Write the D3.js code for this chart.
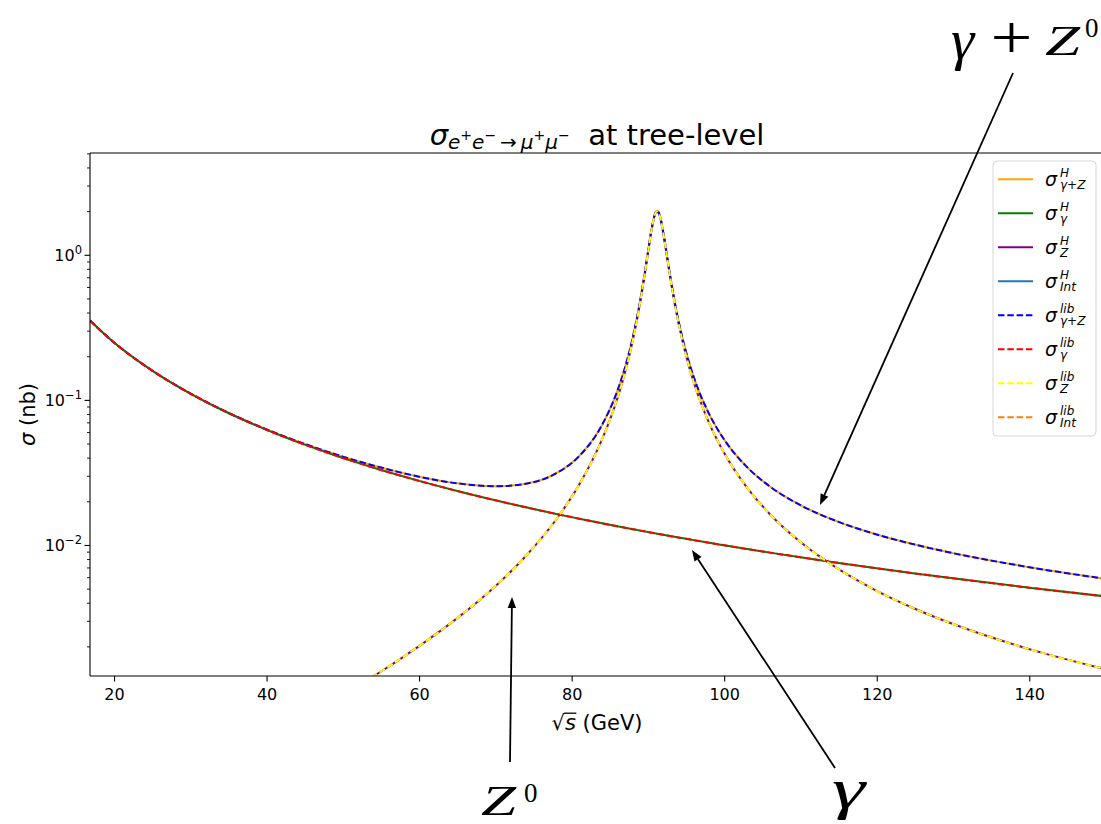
<!DOCTYPE html>
<html>
<head>
<meta charset="utf-8">
<script src="https://cdn.jsdelivr.net/npm/d3@7"></script>
<style>
  body { margin: 0; background: #fff; }
  svg { display: block; font-family: "DejaVu Sans", sans-serif; }
  text { white-space: pre; }
</style>
</head>
<body>
<svg id="chart" width="1101" height="824"></svg>
<script>
// Centre-of-mass energy sqrt(s) in GeV
const energy = [16, 20, 25, 30, 35, 40, 45, 50, 52.5, 55, 57.5, 60, 65, 70, 74, 78, 81, 84, 86, 87, 88, 89,
  89.5, 90, 90.5, 91, 91.2, 91.5, 92, 92.5, 93, 93.5, 94, 95, 96, 98, 100, 103, 106, 110, 115, 120, 125, 130, 140, 150];

// Cross sections in nb
const sigmaGamma = [0.3887, 0.2488, 0.1592, 0.1106, 0.08122, 0.06219, 0.04914, 0.03980, 0.03610, 0.03289, 0.03009,
  0.02764, 0.02355, 0.02031, 0.01817, 0.01635, 0.01517, 0.01410, 0.01345, 0.01315, 0.01285, 0.01256,
  0.01242, 0.01228, 0.01215, 0.01202, 0.01196, 0.01189, 0.01176, 0.01163, 0.01150, 0.01138, 0.01126,
  0.01103, 0.01080, 0.01036, 0.00995, 0.009379, 0.008856, 0.008223, 0.007524, 0.006910, 0.006368,
  0.005888, 0.005077, 0.004422];

const sigmaZ = [4.90e-5, 7.94e-5, 1.313e-4, 2.034e-4, 3.028e-4, 4.408e-4, 6.357e-4, 9.181e-4, 1.108e-3, 1.342e-3, 1.636e-3,
  2.009e-3, 3.131e-3, 5.202e-3, 8.394e-3, 0.01504, 0.02607, 0.05358, 0.1025, 0.1546, 0.2545, 0.4749,
  0.6872, 1.0255, 1.5097, 1.9448, 1.9984, 1.8942, 1.4268, 0.9704, 0.6604, 0.4652, 0.3407,
  0.2023, 0.1329, 0.06980, 0.04306, 0.02485, 0.01629, 0.01047, 0.006811, 0.004832, 0.003635,
  0.002851, 0.001914, 0.001391];

const sigmaInt = [-4.89e-5, -4.98e-5, -5.13e-5, -5.32e-5, -5.56e-5, -5.87e-5, -6.27e-5, -6.78e-5, -7.09e-5, -7.45e-5, -7.86e-5,
  -8.35e-5, -9.62e-5, -1.151e-4, -1.381e-4, -1.751e-4, -2.212e-4, -3.035e-4, -4.045e-4, -4.837e-4, -5.961e-4, -7.507e-4,
  -8.311e-4, -8.661e-4, -7.331e-4, -2.578e-4, 1.4e-5, 4.067e-4, 7.937e-4, 8.660e-4, 8.077e-4, 7.203e-4, 6.367e-4,
  5.045e-4, 4.121e-4, 2.971e-4, 2.301e-4, 1.704e-4, 1.343e-4, 1.039e-4, 8.02e-5, 6.48e-5, 5.40e-5,
  4.60e-5, 3.50e-5, 2.78e-5];

const sigmaTotal = [0.3887, 0.2488, 0.1593, 0.1107, 0.08147, 0.06257, 0.04971, 0.04065, 0.03714, 0.03416, 0.03165,
  0.02957, 0.02659, 0.02539, 0.02643, 0.03122, 0.04102, 0.06737, 0.1156, 0.1672, 0.2668, 0.4867,
  0.6988, 1.0369, 1.5212, 1.9565, 2.0103, 1.9065, 1.4393, 0.9829, 0.6727, 0.4773, 0.3526,
  0.2138, 0.1441, 0.08045, 0.05324, 0.03440, 0.02528, 0.01880, 0.01442, 0.01181, 0.01006,
  0.008785, 0.007026, 0.005841];

const xTicks = [20, 40, 60, 80, 100, 120, 140];
const yTicks = [1, 0.1, 0.01];
const yTickExponents = ["0", "\u22121", "\u22122"];
const xDomain = [16.85, 149.8];
const yDomain = [1.25e-3, 5.03];

// Hand calculation (solid) and library (dashed) curves
const seriesDefs = [
  { sup: "H",   sub: [["γ", 1], ["+", 0], ["Z", 1]], values: sigmaTotal, color: "orange",  dashed: false },
  { sup: "H",   sub: [["γ", 1]],                     values: sigmaGamma, color: "green",   dashed: false },
  { sup: "H",   sub: [["Z", 1]],                     values: sigmaZ,     color: "purple",  dashed: false },
  { sup: "H",   sub: [["Int", 1]],                   values: sigmaInt,   color: "#1f77b4", dashed: false },
  { sup: "lib", sub: [["γ", 1], ["+", 0], ["Z", 1]], values: sigmaTotal, color: "blue",    dashed: true },
  { sup: "lib", sub: [["γ", 1]],                     values: sigmaGamma, color: "red",     dashed: true },
  { sup: "lib", sub: [["Z", 1]],                     values: sigmaZ,     color: "yellow",  dashed: true },
  { sup: "lib", sub: [["Int", 1]],                   values: sigmaInt,   color: "#ff7f0e", dashed: true }
];

const plot = { left: 90, right: 1104, top: 153, bottom: 676 };

const svg = d3.select("#chart");
const x = d3.scaleLinear().domain(xDomain).range([plot.left, plot.right]);
const y = d3.scaleLog().domain(yDomain).range([plot.bottom, plot.top]);

svg.append("defs").append("clipPath").attr("id", "plotClip")
  .append("rect")
  .attr("x", plot.left).attr("y", plot.top)
  .attr("width", plot.right - plot.left).attr("height", plot.bottom - plot.top);

// Curves
const line = d3.line()
  .defined(d => d[1] > 0)
  .x(d => x(d[0]))
  .y(d => y(d[1]))
  .curve(d3.curveMonotoneX);

const curves = svg.append("g").attr("clip-path", "url(#plotClip)");
seriesDefs.forEach(s => {
  curves.append("path")
    .attr("d", line(energy.map((e, i) => [e, s.values[i]])))
    .attr("fill", "none")
    .attr("stroke", s.color)
    .attr("stroke-width", 2)
    .attr("stroke-dasharray", s.dashed ? "6.5,2.8" : null);
});

// Axes
const xAxis = d3.axisBottom(x).tickValues(xTicks).tickSize(5.5).tickPadding(7).tickFormat(d3.format("d"));
const gx = svg.append("g").attr("transform", `translate(0,${plot.bottom})`).call(xAxis);
gx.select(".domain").remove();
gx.selectAll("line").attr("stroke", "#000").attr("stroke-width", 1.1);
gx.selectAll("text").attr("font-size", 16).attr("fill", "#000")
  .attr("font-family", "DejaVu Sans");

// Minor ticks on the log axis
const minorTicks = [];
[1e-3, 1e-2, 1e-1, 1].forEach(dec => {
  for (let k = 2; k <= 9; k++) {
    const v = k * dec;
    if (v >= yDomain[0] && v <= yDomain[1]) minorTicks.push(v);
  }
});
const yAxisMinor = d3.axisLeft(y).tickValues(minorTicks).tickSize(3).tickFormat("");
const gyMinor = svg.append("g").attr("transform", `translate(${plot.left},0)`).call(yAxisMinor);
gyMinor.select(".domain").remove();
gyMinor.selectAll("line").attr("stroke", "#000").attr("stroke-width", 0.9);

const yAxis = d3.axisLeft(y).tickValues(yTicks).tickSize(5.5).tickFormat("");
const gy = svg.append("g").attr("transform", `translate(${plot.left},0)`).call(yAxis);
gy.select(".domain").remove();
gy.selectAll("line").attr("stroke", "#000").attr("stroke-width", 1.1);

yTicks.forEach((v, i) => {
  const t = svg.append("text")
    .attr("x", plot.left - 8).attr("y", y(v) + 5.8)
    .attr("text-anchor", "end").attr("font-size", 16).attr("fill", "#000");
  t.append("tspan").text("10");
  t.append("tspan").attr("font-size", 11.5).attr("dy", -7).text(yTickExponents[i]);
});

// Spines
const spines = svg.append("g").attr("stroke", "#000").attr("stroke-width", 1.1).attr("fill", "none");
spines.append("line").attr("x1", plot.left).attr("x2", plot.left).attr("y1", plot.top).attr("y2", plot.bottom);
spines.append("line").attr("x1", plot.left).attr("x2", plot.right).attr("y1", plot.bottom).attr("y2", plot.bottom);
spines.append("line").attr("x1", plot.left).attr("x2", plot.right).attr("y1", plot.top).attr("y2", plot.top);
spines.append("line").attr("x1", plot.right).attr("x2", plot.right).attr("y1", plot.top).attr("y2", plot.bottom);

// Axis labels
const labelSize = 21;
const xlBase = 730;
const xl = svg.append("text")
  .attr("x", (plot.left + plot.right) / 2).attr("y", xlBase)
  .attr("text-anchor", "middle").attr("font-size", labelSize).attr("fill", "#000");
xl.append("tspan").text("\u221A");
xl.append("tspan").attr("font-style", "italic").text("s");
xl.append("tspan").text(" (GeV)");
{
  const node = xl.node();
  const x0 = node.getEndPositionOfChar(0).x - 0.8;
  const x1 = node.getEndPositionOfChar(1).x + 0.5;
  svg.append("line").attr("x1", x0).attr("x2", x1)
    .attr("y1", xlBase - 0.8 * labelSize).attr("y2", xlBase - 0.8 * labelSize)
    .attr("stroke", "#000").attr("stroke-width", 1.3);
}

const yl = svg.append("text")
  .attr("transform", `translate(35,${(plot.top + plot.bottom) / 2}) rotate(-90)`)
  .attr("text-anchor", "middle").attr("font-size", labelSize).attr("fill", "#000");
yl.append("tspan").attr("font-style", "italic").text("σ");
yl.append("tspan").text(" (nb)");

// Title
const title = svg.append("text")
  .attr("x", (plot.left + plot.right) / 2).attr("y", 145)
  .attr("text-anchor", "middle").attr("font-size", 29).attr("fill", "#000");
title.append("tspan").attr("font-style", "italic").text("σ");
title.append("tspan").attr("font-size", 20).attr("dy", 4).attr("font-style", "italic").text("e");
title.append("tspan").attr("font-size", 14).attr("dy", -9).text("+");
title.append("tspan").attr("font-size", 20).attr("dy", 9).attr("font-style", "italic").text("e");
title.append("tspan").attr("font-size", 14).attr("dy", -9).text("\u2212");
title.append("tspan").attr("font-size", 20).attr("dy", 9).text("\u2009\u2192\u2009");
title.append("tspan").attr("font-size", 20).attr("font-style", "italic").text("μ");
title.append("tspan").attr("font-size", 14).attr("dy", -9).text("+");
title.append("tspan").attr("font-size", 20).attr("dy", 9).attr("font-style", "italic").text("μ");
title.append("tspan").attr("font-size", 14).attr("dy", -9).text("\u2212");
title.append("tspan").attr("font-size", 29).attr("dy", 5).text("  at tree-level");

// Legend
const legend = svg.append("g");
const legendBox = { x: 993, y: 161, w: 103, h: 275 };
legend.append("rect")
  .attr("x", legendBox.x).attr("y", legendBox.y)
  .attr("width", legendBox.w).attr("height", legendBox.h)
  .attr("rx", 4).attr("fill", "#fff").attr("fill-opacity", 0.8)
  .attr("stroke", "#d6d6d6").attr("stroke-width", 1);

seriesDefs.forEach((s, i) => {
  const ly = 179.3 + i * 34.0;
  legend.append("line")
    .attr("x1", 998).attr("x2", 1033).attr("y1", ly).attr("y2", ly)
    .attr("stroke", s.color).attr("stroke-width", 2)
    .attr("stroke-dasharray", s.dashed ? "6.5,2.8" : null);
  legend.append("text").attr("x", 1045).attr("y", ly + 6.5)
    .attr("font-size", 19).attr("font-style", "italic").attr("fill", "#000").text("σ");
  legend.append("text").attr("x", 1060).attr("y", ly - 2.5)
    .attr("font-size", 12).attr("font-style", "italic").attr("fill", "#000").text(s.sup);
  const sub = legend.append("text").attr("x", 1060).attr("y", ly + 10)
    .attr("font-size", 12).attr("fill", "#000");
  s.sub.forEach(([t, it]) => sub.append("tspan").attr("font-style", it ? "italic" : "normal").text(t));
});

// Annotations with arrows pointing at the curves
const annotations = [
  { tip: [112.56, 0.01886], tail: [1013, 73] },
  { tip: [72.18, 0.004379], tail: [510, 762] },
  { tip: [95.78, 0.009233], tail: [835, 768] }
];
const ann = svg.append("g");
annotations.forEach(a => {
  const tx = x(a.tip[0]), ty = y(a.tip[1]);
  const [sx, sy] = a.tail;
  const dx = tx - sx, dy = ty - sy, len = Math.hypot(dx, dy);
  const ux = dx / len, uy = dy / len;
  const headLen = 11, headW = 4.2;
  const bx = tx - ux * headLen, by = ty - uy * headLen;
  ann.append("line").attr("x1", sx).attr("y1", sy).attr("x2", bx).attr("y2", by)
    .attr("stroke", "#000").attr("stroke-width", 1.8);
  ann.append("polygon")
    .attr("points", [[tx, ty], [bx - uy * headW, by + ux * headW], [bx + uy * headW, by - ux * headW]].map(p => p.join(",")).join(" "))
    .attr("fill", "#000");
});

// Serif math glyphs for the annotation labels
const serif = "'Liberation Serif', 'DejaVu Serif', serif";
function glyph(txt, gx0, base, size, italic, sx, anchor) {
  ann.append("text")
    .attr("transform", `translate(${gx0},${base}) scale(${sx},1)`)
    .attr("font-family", serif).attr("font-size", size)
    .attr("font-style", italic ? "italic" : "normal")
    .attr("text-anchor", anchor || "start")
    .attr("fill", "#000").text(txt);
}
// γ + Z⁰
glyph("γ", 951, 59, 56, true, 1.05);
glyph("+", 1011.5, 57.5, 62, false, 1.2, "middle");
glyph("Z", 1045, 55, 42, true, 1.5);
glyph("0", 1085, 37, 27, false, 1.0);
// Z⁰
glyph("Z", 481, 815, 42, true, 1.5);
glyph("0", 524, 802, 27, false, 1.0);
// γ
glyph("γ", 832, 808, 56, true, 1.5);
</script>
</body>
</html>
